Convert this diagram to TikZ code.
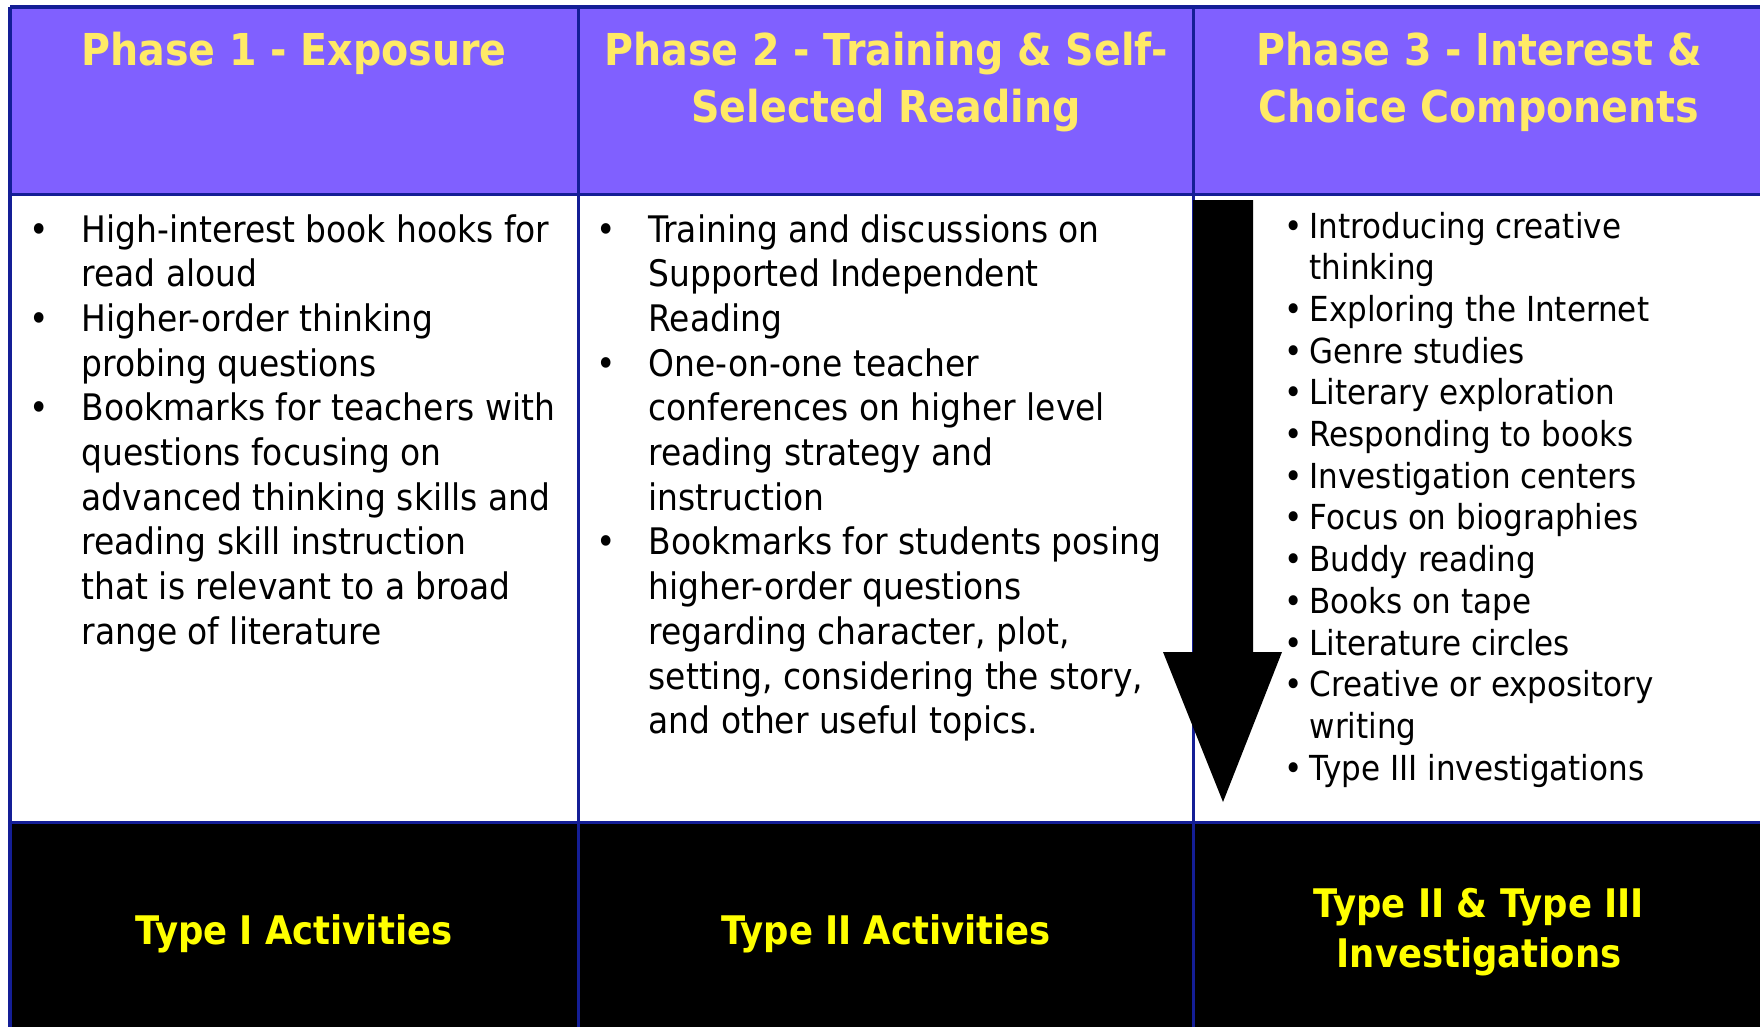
\documentclass[tikz,border=0pt]{standalone}
\usepackage{fontspec}
\setmainfont{DejaVuSansCondensed.ttf}[BoldFont=DejaVuSansCondensed-Bold.ttf]
\usetikzlibrary{positioning}
\definecolor{headfill}{RGB}{128,96,255}
\definecolor{gridblue}{RGB}{20,30,150}
\definecolor{headtext}{RGB}{255,234,102}
\definecolor{foottext}{RGB}{255,255,0}
\tikzset{
  headtxt/.style={font=\bfseries\fontsize{12.5}{15}\selectfont,text=headtext,inner sep=0pt,anchor=base},
  foottxt/.style={font=\bfseries\fontsize{11.2}{14}\selectfont,text=foottext,inner sep=0pt,anchor=base},
  bodytxt/.style={font=\fontsize{10.4}{12}\selectfont,inner sep=0pt,anchor=base west},
  bulletmark/.style={font=\fontsize{10.4}{12}\selectfont,inner sep=0pt,anchor=base},
  listtxt/.style={font=\fontsize{9.8}{12}\selectfont,inner sep=0pt,anchor=base west},
  listmark/.style={font=\fontsize{9.8}{12}\selectfont,inner sep=0pt,anchor=base},
  gridline/.style={draw=gridblue,line width=0.03cm}
}
\begin{document}
\begin{tikzpicture}[x=0.01cm,y=-0.01cm]
\useasboundingbox (0,0) rectangle (1760,1027);
\fill[headfill] (10,7) rectangle (1760,194);
\fill[black] (10,822) rectangle (1760,1027);
\draw[gridline] (10,7) -- (1760,7);
\draw[gridline] (10,194) -- (1760,194);
\draw[gridline] (10,822) -- (1760,822);
\draw[gridline] (10,7) -- (10,1027);
\draw[gridline] (578,7) -- (578,1027);
\draw[gridline] (1193,7) -- (1193,1027);
\fill (1193,200) -- (1253,200) -- (1253,652) -- (1282,652) -- (1223,802) -- (1163,652) -- (1193,652) -- cycle;

\node[headtxt] (h1) at (294,65) {Phase 1 - Exposure};
\node[headtxt] (h2a) at (886,65) {Phase 2 - Training \& Self-};
\node[headtxt] (h2b) at (886,123) {Selected Reading};
\node[headtxt] (h3a) at (1479,65) {Phase 3 - Interest \&};
\node[headtxt] (h3b) at (1479,123) {Choice Components};

\foreach \t [count=\i from 0] in {High-interest book hooks for,read aloud,Higher-order thinking,probing questions,Bookmarks for teachers with,questions focusing on,advanced thinking skills and,reading skill instruction,that is relevant to a broad,range of literature}
  \node[bodytxt] (a\i) at (81,{242+44.7*\i}) {\t};
\foreach \i in {0,2,4}
  \node[bulletmark] (ab\i) at (39,{242+44.7*\i}) {\textbullet};

\foreach \t [count=\i from 0] in {Training and discussions on,Supported Independent,Reading,One-on-one teacher,conferences on higher level,reading strategy and,instruction,Bookmarks for students posing,higher-order questions,{regarding character, plot,},{setting, considering the story,},and other useful topics.}
  \node[bodytxt] (b\i) at (648,{242+44.7*\i}) {\t};
\foreach \i in {0,3,7}
  \node[bulletmark] (bb\i) at (606,{242+44.7*\i}) {\textbullet};

\foreach \t [count=\i from 0] in {Introducing creative,thinking,Exploring the Internet,Genre studies,Literary exploration,Responding to books,Investigation centers,Focus on biographies,Buddy reading,Books on tape,Literature circles,Creative or expository,writing,Type III investigations}
  \node[listtxt] (c\i) at (1309,{238+41.7*\i}) {\t};
\foreach \i in {0,2,3,4,5,6,7,8,9,10,11,13}
  \node[listmark] (cb\i) at (1294,{238+41.7*\i}) {\textbullet};

\node[foottxt] (f1) at (294,944) {Type I Activities};
\node[foottxt] (f2) at (886,944) {Type II Activities};
\node[foottxt] (f3a) at (1479,917) {Type II \& Type III};
\node[foottxt] (f3b) at (1479,967) {Investigations};
\end{tikzpicture}
\end{document}
